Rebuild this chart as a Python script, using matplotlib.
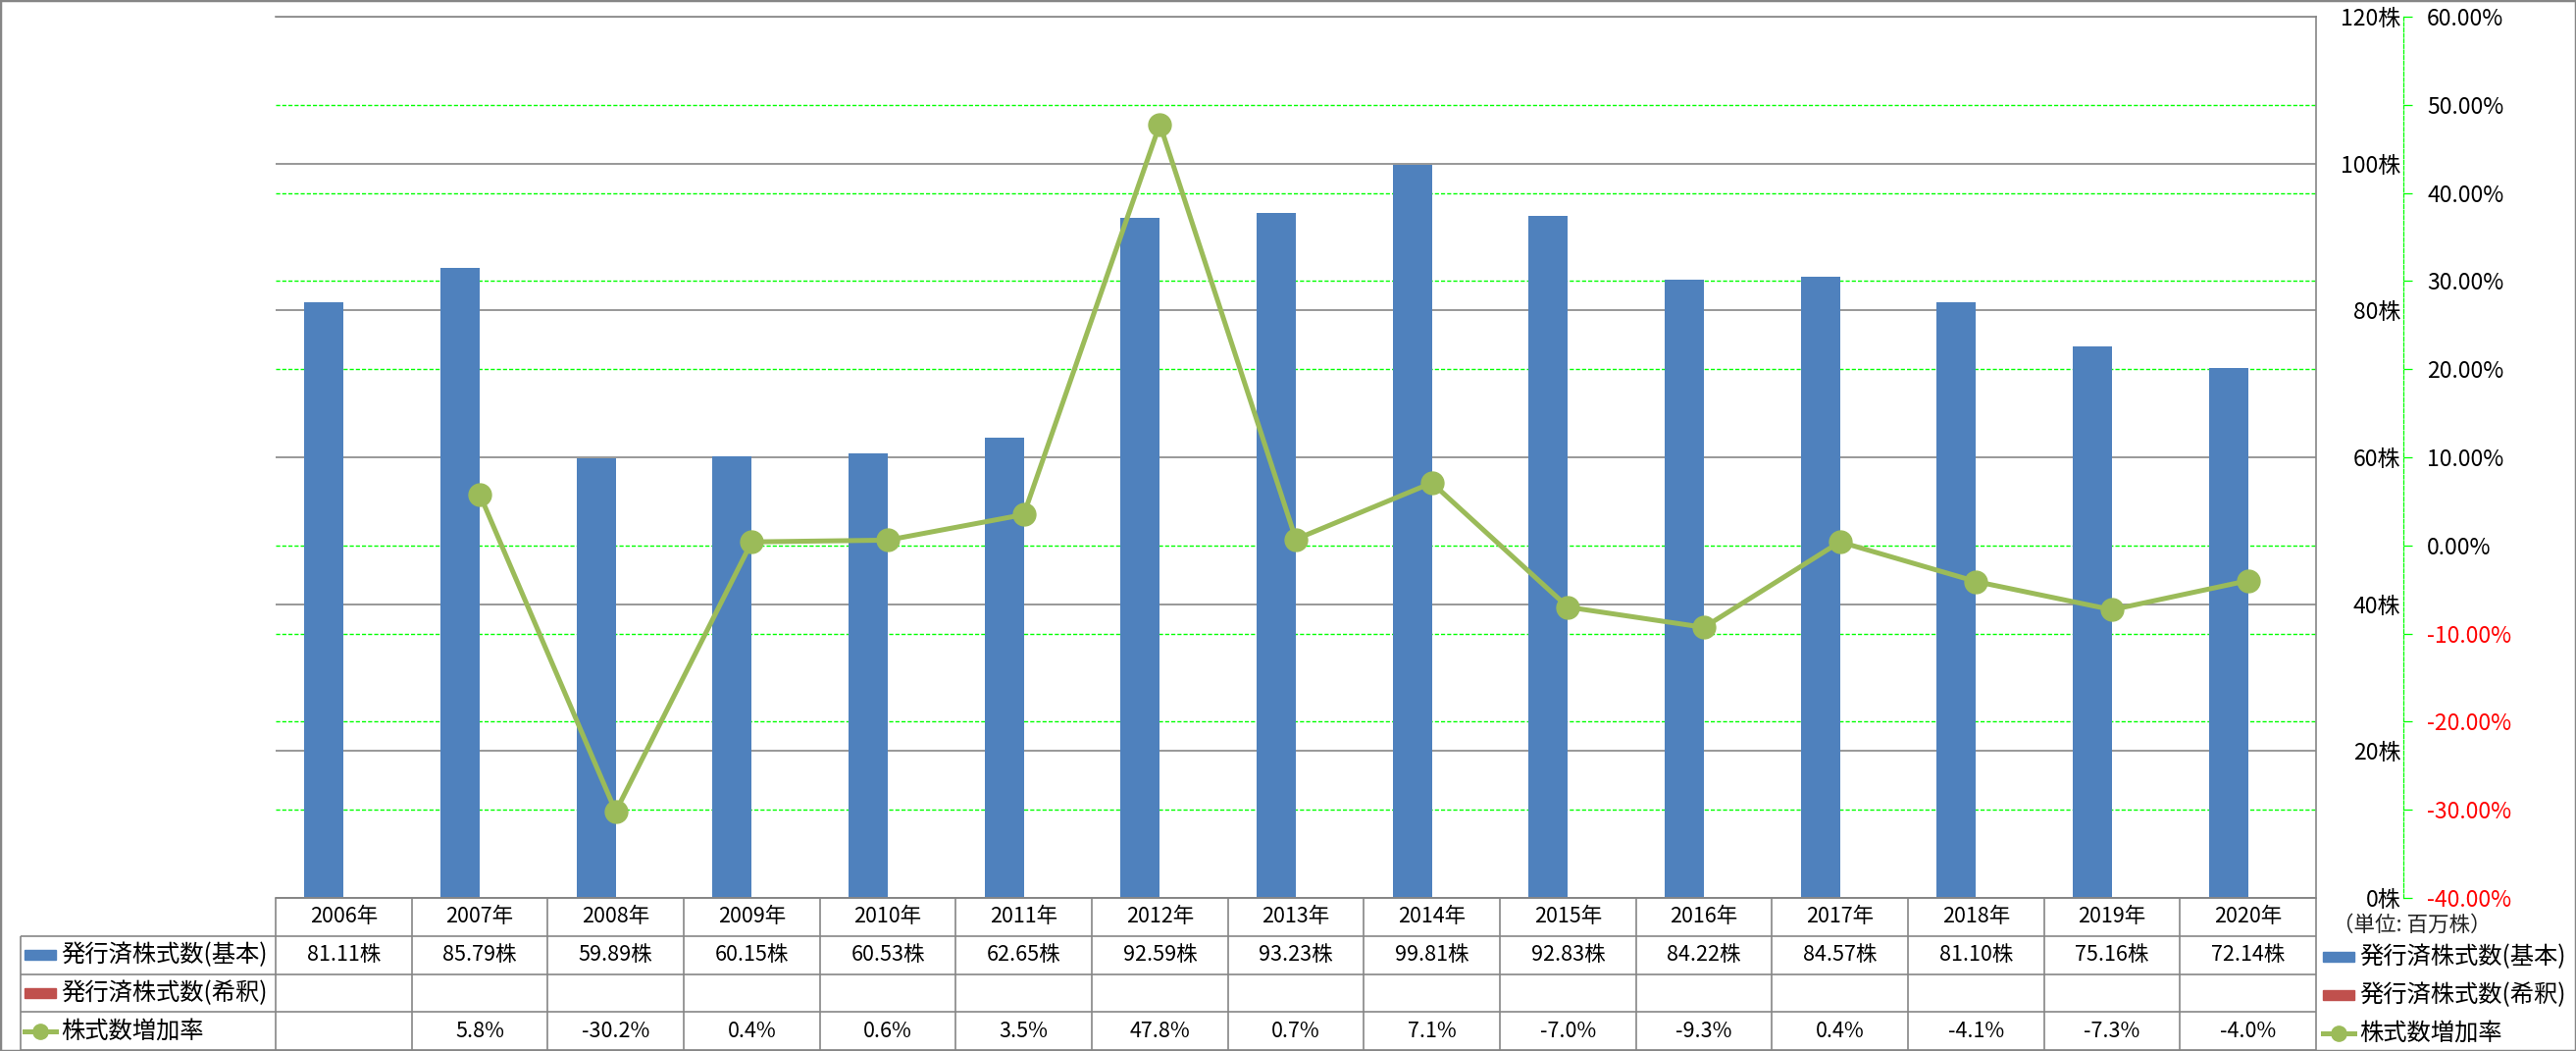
import numpy as np
import matplotlib
matplotlib.use('Agg')
import matplotlib.pyplot as plt
from matplotlib.patches import Rectangle
from matplotlib.lines import Line2D

plt.rcParams['font.family'] = ['Noto Sans CJK JP', 'DejaVu Sans']

# データ
years = ['2006年', '2007年', '2008年', '2009年', '2010年', '2011年', '2012年', '2013年',
         '2014年', '2015年', '2016年', '2017年', '2018年', '2019年', '2020年']
basic = [81.11, 85.79, 59.89, 60.15, 60.53, 62.65, 92.59, 93.23,
         99.81, 92.83, 84.22, 84.57, 81.10, 75.16, 72.14]
diluted = [None] * 15
growth = [None, 5.8, -30.2, 0.4, 0.6, 3.5, 47.8, 0.7,
          7.1, -7.0, -9.3, 0.4, -4.1, -7.3, -4.0]

series_names = ['発行済株式数(基本)', '発行済株式数(希釈)', '株式数増加率']
share_ticks = [0, 20, 40, 60, 80, 100, 120]
pct_ticks = [-40, -30, -20, -10, 0, 10, 20, 30, 40, 50, 60]

blue = '#4F81BD'
red = '#C0504D'
green = '#9BBB59'
grid_gray = '#868686'
lime = '#00FF00'

W, H = 2626, 1071


def fx(px):
    return px / W


def fy(py):
    return 1 - py / H


fig = plt.figure(figsize=(W / 100, H / 100), dpi=100)

# 棒グラフ (主軸)
ax = fig.add_axes([fx(281), fy(915), fx(2361) - fx(281), fy(17) - fy(915)])
ax2 = ax.twinx()

x = np.arange(len(years))
bw = 0.288
ax.bar(x - bw / 2, basic, bw, color=blue, zorder=2)
ax.set_xlim(-0.5, len(years) - 0.5)
ax.set_ylim(share_ticks[0], share_ticks[-1])
ax.set_xticks([])

# 副軸の目盛りに合わせた緑の破線グリッド
lo, hi = pct_ticks[0], pct_ticks[-1]
k = (share_ticks[-1] - share_ticks[0]) / (hi - lo)
ax.set_yticks(share_ticks)
ax.set_yticks([(p - lo) * k for p in pct_ticks], minor=True)
ax.grid(axis='y', which='major', color=grid_gray, lw=1.2, zorder=0)
ax.grid(axis='y', which='minor', color=lime, lw=1.0, linestyle=(0, (3, 1.5)), zorder=0)
ax.set_axisbelow(True)
ax.yaxis.tick_right()
ax.tick_params(axis='y', which='both', length=0, left=False, labelleft=False,
               right=True, labelright=True, pad=62, labelsize=16.5)
ax.set_yticklabels([f'{v}株' for v in share_ticks])
for lab in ax.get_yticklabels():
    lab.set_ha('right')
ax.spines['left'].set_visible(False)
for s in ['top', 'right', 'bottom']:
    ax.spines[s].set_color(grid_gray)
    ax.spines[s].set_linewidth(1.2)

# 折れ線 (副軸)
g = np.array([np.nan if v is None else v for v in growth], dtype=float)
ax2.plot(x, g, color=green, lw=3.6, marker='o', ms=16.5, zorder=3)
ax2.set_ylim(lo, hi)
ax2.set_yticks(pct_ticks)
for s in ['left', 'top', 'bottom']:
    ax2.spines[s].set_visible(False)
ax2.spines['right'].set_position(('outward', 64))
ax2.spines['right'].set_color(lime)
ax2.spines['right'].set_linewidth(0.9)
ax2.spines['right'].set_linestyle((0, (3, 1.5)))
ax2.tick_params(axis='y', color=lime, length=6.5, width=0.9, pad=11, labelsize=16.5)
ax2.set_yticklabels([f'{v:.2f}%' for v in pct_ticks])
for lab, v in zip(ax2.get_yticklabels(), pct_ticks):
    lab.set_color('red' if v < 0 else 'black')

# データテーブル
tab = fig.add_axes([fx(21), fy(1070), fx(2361) - fx(21), fy(915) - fy(1070)])
col_w = (2361 - 281) / len(years)
lab_w = (281 - 21) / col_w
x0 = -0.5 - lab_w
tab.set_xlim(x0, len(years) - 0.5)
tab.set_ylim(4, 0)
tab.axis('off')

tab.hlines([1, 2, 3, 4], x0, len(years) - 0.5, color=grid_gray, lw=1.2, clip_on=False)
tab.hlines(0, -0.5, len(years) - 0.5, color=grid_gray, lw=1.2, clip_on=False)
tab.vlines(np.arange(len(years) + 1) - 0.5, 0, 4, color=grid_gray, lw=1.2, clip_on=False)
tab.vlines(x0, 1, 4, color=grid_gray, lw=1.2, clip_on=False)

for i in range(len(years)):
    tab.text(i, 0.5, years[i], ha='center', va='center', fontsize=15.5)
    if basic[i] is not None:
        tab.text(i, 1.5, f'{basic[i]:.2f}株', ha='center', va='center', fontsize=15.5)
    if diluted[i] is not None:
        tab.text(i, 2.5, f'{diluted[i]:.2f}株', ha='center', va='center', fontsize=15.5)
    if growth[i] is not None:
        tab.text(i, 3.5, f'{growth[i]:.1f}%', ha='center', va='center', fontsize=15.5)


def draw_keys(xs, rows):
    u = 1 / col_w
    kx = xs + 4 * u
    kw = 32 * u
    tab.add_patch(Rectangle((kx, rows[0] - 0.13), kw, 0.26, color=blue, clip_on=False))
    tab.add_patch(Rectangle((kx, rows[1] - 0.13), kw, 0.26, color=red, clip_on=False))
    tab.add_line(Line2D([kx, kx + kw], [rows[2], rows[2]], color=green, lw=3.6,
                        clip_on=False))
    tab.plot([kx + kw / 2], [rows[2]], marker='o', ms=11, color=green, clip_on=False)
    for r, name in zip(rows, series_names):
        tab.text(kx + kw + 5 * u, r, name, ha='left', va='center', fontsize=17.5, clip_on=False)


draw_keys(x0, [1.5, 2.5, 3.5])
draw_keys(len(years) - 0.5 + 3 / col_w, [1.55, 2.55, 3.55])

fig.text(fx(2378), fy(943), '（単位: 百万株）', ha='left', va='center', fontsize=15.5,
         color='#222222')

# 外枠
fig.add_artist(Rectangle((0, 0), 1, 1, transform=fig.transFigure, fill=False,
                         ec=grid_gray, lw=2.5))

fig.savefig('out.png', dpi=100)
